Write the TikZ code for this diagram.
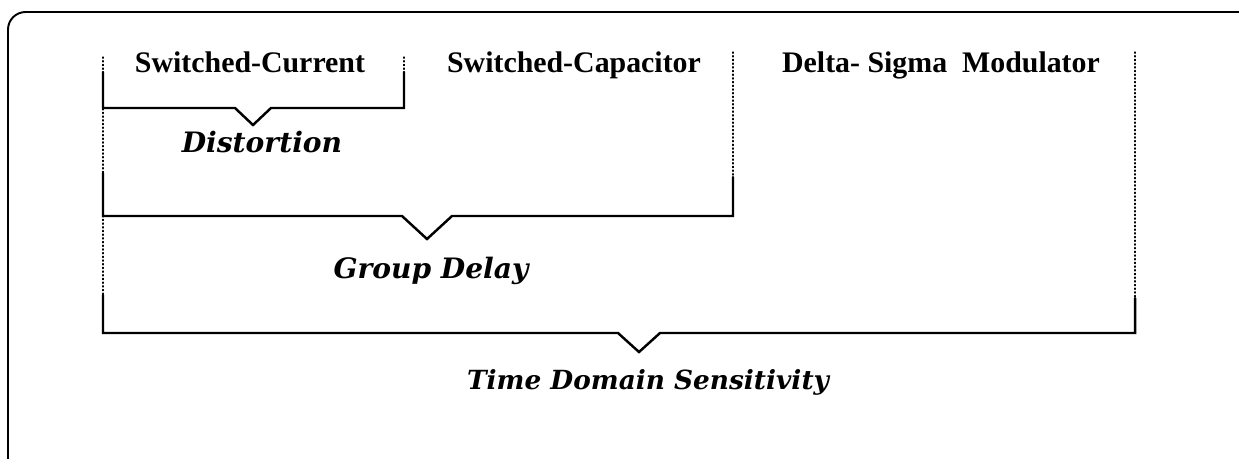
\documentclass[tikz,border=0pt]{standalone}
\usepackage{fontspec}
\setmainfont{Liberation Serif}
\newfontfamily\tagfont{DejaVu Serif}

\begin{document}
\begin{tikzpicture}[x=0.02cm, y=-0.02cm, line cap=round,
	blk/.style={font=\fontsize{17}{20}\selectfont\bfseries, anchor=base, inner sep=0pt},
	tag/.style={font=\tagfont\fontsize{16}{19}\selectfont\bfseries\itshape, anchor=base, inner sep=0pt},
	brace/.style={line width=1.4pt, line join=miter},
	guide/.style={line width=0.7pt, dash pattern=on 0.7pt off 1.4pt}]
	\useasboundingbox (0,0) rectangle (1239,458);
	% outer frame, only its top left corner is on the page
	\draw[line width=1.1pt, rounded corners=10] (8,520) -- (8,12) -- (1300,12);
	% the three blocks
	\node[blk] (sc) at (250,72) {Switched-Current};
	\node[blk] (scap) at (574,72) {Switched-Capacitor};
	\node[blk] (dsm) at (941,72) {Delta-\ Sigma\ \ Modulator};
	% dotted guides between the blocks
	\draw[guide] (103,57) -- (103,332);
	\draw[guide] (404,57) -- (404,72);
	\foreach \x/\y in {733/177, 1135/298} {\draw[guide] (\x,52) -- (\x,\y);}
	% braces
	\draw[brace] (103,72) -- (103,108) -- (235,108) -- (253,125) -- (271,108) -- (404,108) -- (404,72);
	\draw[brace] (103,173) -- (103,216) -- (402,216) -- (427,239) -- (452,216) -- (733,216) -- (733,177);
	\draw[brace] (103,295) -- (103,333) -- (618,333) -- (639,352) -- (660,333) -- (1135,333) -- (1135,298);
	% what each brace stands for
	\node[tag] (dist) at (262,152) {Distortion};
	\node[tag] (gd) at (431,278) {Group Delay};
	\node[tag, font=\tagfont\fontsize{15}{18}\selectfont\bfseries\itshape] (tds) at (648,389) {Time Domain Sensitivity};
\end{tikzpicture}
\end{document}
